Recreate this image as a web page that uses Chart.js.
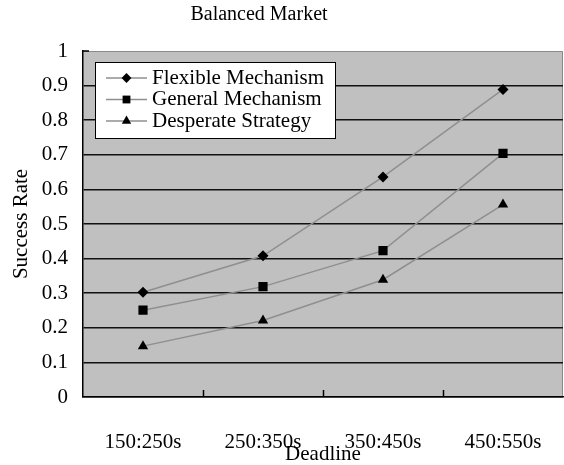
<!DOCTYPE html>
<html>
<head>
<meta charset="utf-8">
<script src="https://cdn.jsdelivr.net/npm/chart.js@4/dist/chart.umd.min.js"></script>
<style>
  html, body { margin: 0; padding: 0; background: #ffffff; }
  #wrap { width: 564px; height: 465px; }
</style>
</head>
<body>
<div id="wrap"><canvas id="c" width="564" height="465"></canvas></div>
<script>
// Deadline ranges on the x axis
const categories = ['150:250s', '250:350s', '350:450s', '450:550s'];

// Success rate per deadline range
const flexibleMechanism = [0.303, 0.408, 0.636, 0.889];
const generalMechanism  = [0.251, 0.319, 0.423, 0.704];
const desperateStrategy = [0.147, 0.221, 0.339, 0.556];

const seriesNames = ['Flexible Mechanism', 'General Mechanism', 'Desperate Strategy'];
const chartTitle = 'Balanced Market';
const xTitle = 'Deadline';
const yTitle = 'Success Rate';

const FONT = 'Liberation Serif, Times New Roman, serif';
const LINE_GRAY = '#8f8f8f';
const PLOT_BG = '#c0c0c0';

const markerStyles = [
  { pointStyle: 'rectRot', radius: 5.5 },
  { pointStyle: 'rect', radius: 6.5 },
  { pointStyle: 'triangle', radius: 6 }
];

function makeDataset(label, data, m) {
  return {
    label: label,
    data: data,
    borderColor: LINE_GRAY,
    borderWidth: 1.5,
    backgroundColor: '#000000',
    pointStyle: m.pointStyle,
    pointRadius: m.radius,
    pointHoverRadius: m.radius,
    pointBackgroundColor: '#000000',
    pointBorderColor: '#000000',
    pointBorderWidth: 0,
    tension: 0,
    fill: false
  };
}

// Small marker shapes for the legend box
function drawMarker(ctx, style, x, y, r) {
  ctx.beginPath();
  if (style === 'rectRot') {
    ctx.moveTo(x, y - r); ctx.lineTo(x + r, y); ctx.lineTo(x, y + r); ctx.lineTo(x - r, y);
  } else if (style === 'rect') {
    const s = r * Math.SQRT1_2;
    ctx.rect(x - s, y - s, 2 * s, 2 * s);
  } else {
    const h = r * Math.sin(Math.PI / 3);
    ctx.moveTo(x, y - r); ctx.lineTo(x + h, y + r / 2); ctx.lineTo(x - h, y + r / 2);
  }
  ctx.closePath();
  ctx.fill();
}

const framePlugin = {
  id: 'frame',
  beforeDraw(chart) {
    const { ctx, chartArea: a } = chart;
    ctx.save();
    ctx.fillStyle = PLOT_BG;
    ctx.fillRect(a.left, a.top, a.right - a.left, a.bottom - a.top);
    ctx.strokeStyle = '#8a8a8a';
    ctx.lineWidth = 1;
    ctx.beginPath();
    ctx.moveTo(a.left, a.top + 0.5); ctx.lineTo(a.right - 0.5, a.top + 0.5); ctx.lineTo(a.right - 0.5, a.bottom);
    ctx.stroke();
    ctx.restore();
  },
  afterDraw(chart) {
    const { ctx, chartArea: a, scales } = chart;
    ctx.save();
    // inside tick marks: top of the value axis and between categories
    ctx.strokeStyle = '#000000';
    ctx.lineWidth = 1.5;
    ctx.beginPath();
    const yTop = scales.y.getPixelForValue(1);
    ctx.moveTo(a.left, yTop); ctx.lineTo(a.left + 6, yTop);
    for (let i = 1; i < categories.length; i++) {
      const xb = (scales.x.getPixelForValue(i - 1) + scales.x.getPixelForValue(i)) / 2;
      ctx.moveTo(Math.round(xb) + 0.5, a.bottom); ctx.lineTo(Math.round(xb) + 0.5, a.bottom - 7);
    }
    ctx.stroke();

    // chart title
    ctx.fillStyle = '#000000';
    ctx.font = '20px ' + FONT;
    ctx.textAlign = 'center';
    ctx.textBaseline = 'middle';
    ctx.fillText(chartTitle, 259, 15);

    // legend box
    const bx = 95, by = 62, bw = 240, bh = 76;
    ctx.fillStyle = '#ffffff';
    ctx.fillRect(bx, by, bw, bh);
    ctx.strokeStyle = '#000000';
    ctx.lineWidth = 1;
    ctx.strokeRect(bx + 0.5, by + 0.5, bw, bh);
    const rows = [78, 99.5, 121];
    chart.data.datasets.forEach((ds, i) => {
      const y = rows[i];
      ctx.strokeStyle = LINE_GRAY;
      ctx.lineWidth = 1.5;
      ctx.beginPath();
      ctx.moveTo(106, y); ctx.lineTo(147, y);
      ctx.stroke();
      ctx.fillStyle = '#000000';
      drawMarker(ctx, ds.pointStyle, 126.5, y, markerStyles[i].radius * (i === 1 ? 0.85 : 0.9));
      ctx.font = '21px ' + FONT;
      ctx.textAlign = 'left';
      ctx.textBaseline = 'middle';
      ctx.fillText(ds.label, 152, y);
    });
    ctx.restore();
  }
};

new Chart(document.getElementById('c'), {
  type: 'line',
  data: {
    labels: categories,
    datasets: [
      makeDataset(seriesNames[0], flexibleMechanism, markerStyles[0]),
      makeDataset(seriesNames[1], generalMechanism, markerStyles[1]),
      makeDataset(seriesNames[2], desperateStrategy, markerStyles[2])
    ]
  },
  options: {
    responsive: false,
    animation: false,
    devicePixelRatio: 1,
    layout: { autoPadding: false, padding: { top: 51, right: 1, left: 0, bottom: 0 } },
    plugins: {
      legend: { display: false },
      tooltip: { enabled: false },
      title: { display: false }
    },
    scales: {
      x: {
        offset: true,
        grid: { display: false, drawTicks: false },
        border: { display: true, color: '#000000', width: 1.5 },
        ticks: {
          color: '#000000',
          font: { family: FONT, size: 21, lineHeight: 1 },
          padding: 35,
          maxRotation: 0
        },
        title: {
          display: true,
          text: xTitle,
          color: '#000000',
          font: { family: FONT, size: 21, lineHeight: 1 },
          padding: { top: 0, bottom: 0 }
        },
        afterFit(scale) {
          scale.height = 68;
          scale.paddingLeft = 0;
          scale.paddingRight = 0;
        }
      },
      y: {
        min: 0,
        max: 1,
        ticks: {
          stepSize: 0.1,
          color: '#000000',
          font: { family: FONT, size: 21, lineHeight: 1 },
          padding: 15,
          callback: (v) => String(Math.round(v * 10) / 10)
        },
        grid: {
          drawTicks: false,
          lineWidth: 1.5,
          color: (c) => (c.tick && c.tick.value >= 1 ? 'rgba(0,0,0,0)' : '#111111')
        },
        border: { display: true, color: '#000000', width: 1.5 },
        title: {
          display: true,
          text: yTitle,
          color: '#000000',
          font: { family: FONT, size: 21, lineHeight: 1 },
          padding: { top: 11, bottom: 0 }
        },
        afterFit(scale) { scale.width = 83; }
      }
    }
  },
  plugins: [framePlugin]
});
</script>
</body>
</html>
